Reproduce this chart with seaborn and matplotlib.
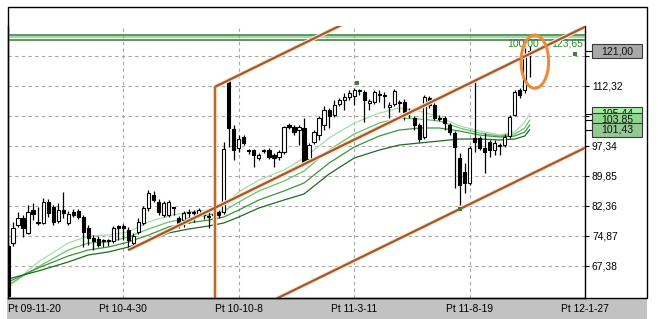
import numpy as np
import matplotlib
matplotlib.use("Agg")
import matplotlib.pyplot as plt
import seaborn as sns
from matplotlib.patches import Rectangle, Ellipse
from matplotlib.lines import Line2D
from matplotlib import transforms

# ---------------- data (weekly candles) ----------------
opens = [72.3, 73.1, 77.6, 79.4, 75.6, 81.4, 78.4, 78.1, 83.4, 82.1,
         78.6, 81.4, 78.1, 80.9, 81.1, 79.6, 76.9, 74.4, 74.1, 73.7,
         73.5, 73.6, 77.4, 77.4, 76.4, 73.1, 75.9, 78.1, 81.9, 85.1,
         83.4, 80.1, 80.1, 81.9, 79.4, 78.9, 80.6, 80.7, 80.4, 80.1,
         79.6, 80.1, 80.9, 80.9, 113.6, 101.6, 96.8, 99.6, 96.1, 96.3,
         94.3, 96.1, 96.3, 95.1, 94.6, 95.8, 102.6, 102.1, 101.3, 101.8,
         94.1, 98.3, 100.1, 102.6, 106.3, 105.1, 107.8, 108.8, 109.6, 109.8,
         111.1, 110.8, 108.1, 108.3, 110.1, 109.8, 107.1, 107.8, 108.1, 108.3,
         105.8, 104.3, 102.6, 99.6, 109.3, 107.6, 104.3, 104.3, 102.6, 100.6,
         94.3, 90.8, 88.1, 99.3, 99.3, 96.8, 98.3, 96.3, 97.3, 97.6,
         99.8, 105.1, 111.3, 111.3, 120.3]
highs = [72.8, 78.4, 80.9, 80.1, 82.6, 83.1, 82.1, 84.4, 84.0, 82.6,
         83.1, 85.9, 81.1, 81.6, 81.6, 80.1, 77.6, 75.1, 74.9, 74.1,
         74.1, 77.4, 77.6, 77.9, 77.1, 75.6, 79.4, 82.4, 86.4, 86.1,
         84.1, 83.6, 83.9, 82.1, 79.9, 81.1, 81.6, 81.4, 81.9, 80.6,
         81.4, 80.9, 81.4, 98.3, 114.3, 102.6, 100.1, 100.1, 96.6, 96.6,
         95.6, 96.6, 96.8, 95.6, 96.3, 102.3, 103.1, 102.6, 102.6, 104.3,
         98.1, 101.3, 104.8, 107.3, 106.8, 108.8, 109.3, 110.6, 111.3, 111.8,
         111.6, 111.3, 109.1, 111.3, 111.3, 110.8, 108.3, 111.6, 108.8, 109.1,
         106.8, 104.8, 103.1, 110.1, 109.8, 108.1, 105.1, 104.8, 103.1, 101.1,
         95.6, 93.1, 97.3, 113.8, 99.8, 100.6, 98.8, 98.8, 98.1, 100.3,
         105.1, 111.3, 111.8, 121.8, 122.3]
lows = [59.0, 72.4, 77.1, 74.6, 75.3, 78.9, 77.6, 77.8, 79.6, 77.6,
        78.1, 79.4, 77.6, 79.6, 79.1, 72.1, 72.6, 71.4, 72.1, 72.1,
        72.4, 73.1, 73.9, 73.9, 71.4, 72.6, 75.4, 77.6, 81.1, 83.4,
        80.1, 79.6, 79.6, 80.1, 76.9, 77.1, 78.1, 78.4, 79.6, 79.1,
        76.9, 79.1, 79.4, 80.4, 97.1, 93.8, 95.8, 97.6, 95.3, 92.1,
        93.8, 95.6, 94.1, 92.1, 93.8, 95.3, 101.6, 100.1, 97.6, 92.6,
        93.6, 97.8, 98.8, 101.3, 101.8, 104.6, 107.3, 106.3, 108.8, 107.6,
        110.1, 103.3, 106.3, 107.8, 108.3, 106.8, 104.3, 107.3, 105.8, 103.8,
        104.3, 101.3, 98.3, 99.1, 106.8, 103.8, 103.6, 101.3, 100.1, 86.9,
        82.6, 85.6, 87.6, 95.8, 96.3, 90.6, 94.6, 95.1, 95.1, 97.1,
        99.3, 104.8, 109.3, 110.6, 114.6]
closes = [60.0, 76.9, 79.4, 76.9, 80.9, 80.4, 78.2, 83.4, 80.6, 78.4,
          81.4, 80.6, 80.4, 80.1, 79.6, 75.9, 74.4, 73.6, 72.6, 73.5,
          73.6, 76.9, 76.9, 76.9, 73.9, 74.9, 78.4, 81.9, 85.6, 83.9,
          80.9, 83.1, 83.4, 81.8, 77.9, 80.6, 80.8, 80.6, 81.4, 80.0,
          79.7, 80.2, 80.1, 96.6, 101.8, 96.3, 99.1, 98.1, 96.0, 95.1,
          95.1, 96.2, 94.6, 94.3, 95.8, 102.1, 102.1, 100.8, 102.1, 93.3,
          97.6, 100.8, 104.3, 106.3, 104.8, 107.6, 108.8, 109.6, 110.6, 111.3,
          111.0, 108.8, 108.6, 110.8, 110.0, 109.9, 107.6, 111.1, 108.0, 105.8,
          105.9, 102.6, 99.1, 109.6, 107.6, 104.3, 104.2, 103.1, 100.8, 97.1,
          87.6, 88.1, 96.8, 98.3, 96.8, 95.8, 96.3, 98.1, 97.4, 99.6,
          104.6, 110.8, 110.1, 120.1, 121.0]

tick_bars = [0, 23, 46, 69, 92, 115]
tick_labels = ["Pt 09-11-20", "Pt 10-4-30", "Pt 10-10-8",
               "Pt 11-3-11", "Pt 11-8-19", "Pt 12-1-27"]
price_ticks = [67.38, 74.87, 82.36, 89.85, 97.34, 104.83, 112.32, 119.81]
hidden_price_ticks = [104.83, 119.81]   # covered by value boxes in the chart

# moving averages
ma_bars = [0, 6, 12, 16, 20, 24, 28, 32, 36, 40, 43, 46, 50, 55, 59, 64,
           69, 74, 78, 82, 86, 90, 94, 98, 101, 103, 104]
ma_1 = [61.88, 68.37, 73.11, 74.86, 75.11, 75.86, 78.36, 79.85, 80.85, 81.35,
        82.60, 85.85, 88.84, 91.34, 94.34, 99.33, 103.08, 105.57, 106.82,
        106.07, 104.58, 102.33, 101.08, 100.08, 100.83, 103.33, 105.44]
ma_2 = [62.63, 67.12, 71.36, 73.11, 73.36, 74.61, 76.61, 78.36, 79.36, 80.10,
        81.10, 83.35, 86.10, 88.59, 91.09, 96.33, 100.33, 103.08, 104.33,
        104.08, 103.58, 101.83, 100.58, 99.83, 100.33, 101.83, 103.85]
ma_3 = [63.37, 66.87, 69.87, 71.36, 72.11, 73.36, 75.11, 77.11, 78.11, 78.86,
        79.61, 81.35, 83.85, 86.10, 88.09, 93.09, 97.08, 99.83, 101.33,
        101.83, 101.83, 101.08, 100.08, 99.58, 99.83, 100.83, 102.60]
ma_4 = [64.12, 66.12, 68.37, 70.12, 70.87, 72.11, 73.61, 75.61, 76.61, 77.36,
        78.11, 79.61, 81.85, 83.85, 85.35, 90.34, 94.34, 96.33, 97.58,
        98.08, 98.58, 99.08, 99.08, 98.83, 99.08, 99.83, 101.43]

fib_levels = [125.05, 124.45, 123.75]
fib_texts = ["100,00", "123,65"]

channel_anchor_bar = 24.1
channel_anchor_value = 71.4
channel_slope = 0.6126
channel_half_width = 30.2
channel_start_bar = 41.3

marker_bars = [69.5, 90, 113]
marker_values = [113.1, 81.6, 120.3]

last_price = 121.00
ma_last_labels = [105.44, 103.85, 101.43]

ellipse_bar = 105.0
ellipse_value = 118.4
ellipse_w_bars = 5.5
ellipse_h_value = 13.3

# ---------------- style ----------------
sns.set_style("white")
plt.rcParams['font.family'] = ['Liberation Sans', 'DejaVu Sans']

W, H = 658, 319
fig = plt.figure(figsize=(W / 100, H / 100), dpi=100)
fig.patch.set_facecolor("white")


def fx(px):
    return px / W


def fy(py):
    return 1 - py / H


ax = fig.add_axes([fx(8), fy(298), fx(585) - fx(8), fy(26) - fy(298)])
ax.set_facecolor("white")
ax.set_xlim(0, 115)
ax.set_ylim(59.38, 127.30)

# grid
ax.set_axisbelow(True)
ax.grid(True, linestyle=(0, (3, 3)), color="#A6A6A6", linewidth=0.8)

# moving averages
ma_colors = ["#A9DCA9", "#6CBF6C", "#3B963B", "#1F6A24"]
for vals, col in zip([ma_1, ma_2, ma_3, ma_4], ma_colors):
    sns.lineplot(x=ma_bars, y=vals, ax=ax, color=col, linewidth=0.9,
                 zorder=2, legend=False)

# candles
x = np.arange(len(opens))
o = np.array(opens)
c = np.array(closes)
h = np.array(highs)
l = np.array(lows)
ax.vlines(x, l, h, color="black", linewidth=0.9, zorder=3)
up = c >= o
body_low = np.minimum(o, c)
body_h = np.maximum(np.abs(c - o), 0.25)
ax.bar(x[up], body_h[up], bottom=body_low[up], width=0.64, color="white",
       edgecolor="black", linewidth=0.8, zorder=4)
ax.bar(x[~up], body_h[~up], bottom=body_low[~up], width=0.64, color="black",
       edgecolor="black", linewidth=0.8, zorder=4)

# horizontal fibonacci-style levels
ax.hlines(fib_levels, 0, 115, colors=["#2E7D32", "#8CCB8C", "#2E7D32"],
          linewidth=1.1, zorder=3)
ax.text(99.5, 123.0, fib_texts[0], color="#2F842F", fontsize=7.5,
        va="center", ha="left", zorder=5)
ax.text(114.6, 123.0, fib_texts[1], color="#2F842F", fontsize=7.5,
        va="center", ha="right", zorder=5)

# channel
def mid_line(b):
    return channel_anchor_value + channel_slope * (np.asarray(b) - channel_anchor_bar)


mid_b = np.array([channel_anchor_bar, 115])
side_b = np.array([channel_start_bar, 115])
lines = [
    (mid_b, mid_line(mid_b)),
    (side_b, mid_line(side_b) + channel_half_width),
    (side_b, mid_line(side_b) - channel_half_width),
]
for bx, by in lines:
    ax.plot(bx, by, color="#FBE2CB", linewidth=3.2, zorder=5,
            solid_capstyle="butt")
    ax.plot(bx, by, color="#A0582E", linewidth=1.6, zorder=5.1,
            solid_capstyle="butt")
vb = [channel_start_bar, channel_start_bar]
vv = [mid_line(channel_start_bar) - channel_half_width,
      mid_line(channel_start_bar) + channel_half_width]
ax.plot(vb, vv, color="#FBE2CB", linewidth=3.0, zorder=5)
ax.plot(vb, vv, color="#BC6630", linewidth=1.6, zorder=5.1)

# markers
ax.scatter(marker_bars, marker_values, marker="s", s=7, color="#3E7D3E",
           zorder=6, linewidths=0)

# ellipse highlight
ax.add_patch(Ellipse((ellipse_bar, ellipse_value), ellipse_w_bars,
                     ellipse_h_value, fill=False, edgecolor="#EE8B3B",
                     linewidth=2.2, zorder=7, clip_on=False))

# axes, ticks
ax.yaxis.tick_right()
ax.set_yticks(price_ticks)
ax.set_yticklabels(["" if v in hidden_price_ticks else f"{v:.2f}".replace(".", ",")
                    for v in price_ticks])
ax.tick_params(axis="y", length=3, width=0.8, pad=2, labelsize=7.4,
               colors="black", right=True, left=False)
ax.set_xticks(tick_bars)
ax.set_xticklabels(tick_labels)
ax.tick_params(axis="x", length=0, pad=4, labelsize=7.4, colors="black")
ax.get_xticklabels()[0].set_horizontalalignment("left")
for side in ["left", "bottom", "right"]:
    ax.spines[side].set_visible(True)
    ax.spines[side].set_color("black")
    ax.spines[side].set_linewidth(1.0)
ax.spines["top"].set_visible(False)
ax.set_xlabel("")
ax.set_ylabel("")

# grey band below plot
fig.add_artist(Rectangle((fx(7), 0), fx(647) - fx(7), fy(298.5),
                         transform=fig.transFigure, facecolor="#C2C2C2",
                         edgecolor="none", zorder=-1))
# outer frame
fig.add_artist(Rectangle((fx(8), fy(298)), fx(647) - fx(8), fy(7) - fy(298),
                         transform=fig.transFigure, fill=False,
                         edgecolor="black", linewidth=1.0, zorder=3))

# value boxes on right
trans = transforms.blended_transform_factory(fig.transFigure, ax.transData)
box_h = 3.5
box_specs = [(last_price, "#A9A9A9")] + list(zip(ma_last_labels,
                                              ["#A2EDA2", "#8FD68F", "#93C993"]))
z = 5.0
for val, col in box_specs:
    fig.add_artist(Line2D([fx(585), fx(592)], [val, val], transform=trans,
                          color="black", linewidth=0.8, zorder=z))
    fig.add_artist(Rectangle((fx(592), val - box_h / 2), fx(642) - fx(592),
                             box_h, transform=trans, facecolor=col,
                             edgecolor="#3A3A3A", linewidth=0.8, zorder=z + 0.1,
                             clip_on=False))
    fig.text(fx(617), val, f"{val:.2f}".replace(".", ","), transform=trans,
             ha="center", va="center", fontsize=7.6, color="#111111",
             zorder=z + 0.2)
    z += 0.5

fig.savefig("out.png", dpi=100)
